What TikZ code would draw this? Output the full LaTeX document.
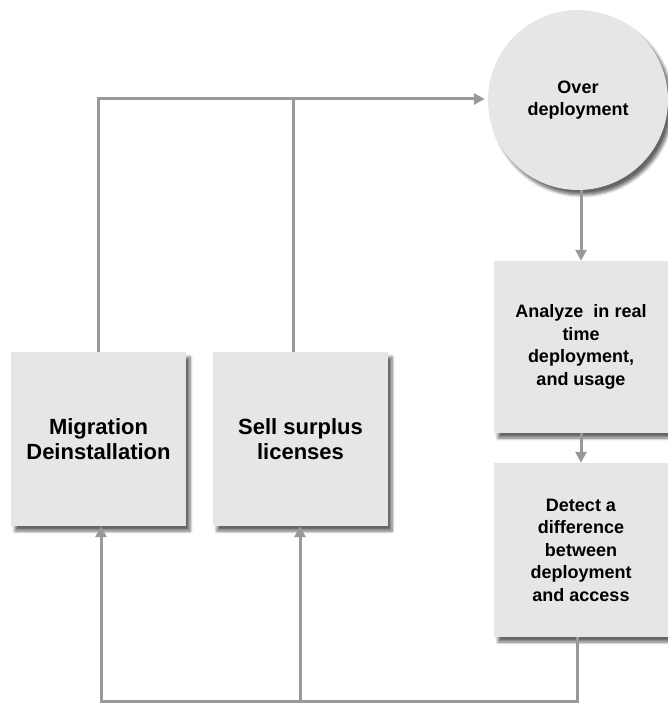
\documentclass[tikz,border=0pt]{standalone}
\usepackage{fontspec}
\setmainfont{Liberation Sans}
\usetikzlibrary{arrows.meta,shadows.blur}

\definecolor{boxfill}{HTML}{E6E6E6}
\definecolor{linegray}{HTML}{999999}

\begin{document}
\begin{tikzpicture}[x=1pt,y=-1pt,
  softshadow/.style={blur shadow={shadow xshift=4pt, shadow yshift=-5pt,
      shadow blur steps=6, shadow blur radius=3pt, shadow opacity=60}},
  card/.style={fill=boxfill, inner sep=0pt, align=center, softshadow},
  bigtext/.style={font=\fontsize{22}{24.5}\selectfont\bfseries},
  smalltext/.style={font=\fontsize{18}{22.5}\selectfont\bfseries},
  ln/.style={draw=linegray, line width=3pt},
  arr/.style={ln, -{Triangle[length=11pt,width=11pt]}}
]
\useasboundingbox (0,0) rectangle (668,706);

% process boxes
\node[card, bigtext, minimum width=175pt, minimum height=174pt] (mig)
  at (98.5,439) {Migration\\Deinstallation};
\node[card, bigtext, minimum width=175pt, minimum height=174pt] (sell)
  at (300.5,439) {Sell surplus\\licenses};
\node[card, smalltext, circle, minimum size=180pt] (over)
  at (578,100) {Over\\deployment};
\node[card, smalltext, minimum width=174pt, minimum height=172pt] (ana)
  at (581,347) {Analyze\ \ in real\\time\\deployment,\\and usage};
\node[card, smalltext, minimum width=174pt, minimum height=174pt] (det)
  at (581,550) {Detect a\\difference\\between\\deployment\\and access};

% feedback loop on top
\coordinate (top) at (0,99);
\draw[arr, shorten >=3pt] (mig.north) |- (over.west |- top);
\draw[ln] ([xshift=-7.5pt]sell.north) -- ([xshift=-7.5pt]sell.north |- top);

% main chain on the right
\draw[arr] (ana.north |- over.south) -- (ana.north);
\draw[arr] (ana.south) -- (det.north);

% return loop at the bottom
\coordinate (bot) at (0,701);
\draw[arr] ([xshift=-4pt]det.south) |- ([xshift=2.5pt]mig.south |- bot) -- ([xshift=2.5pt]mig.south);
\draw[arr] ([xshift=-0.5pt]sell.south |- bot) -- ([xshift=-0.5pt]sell.south);
\end{tikzpicture}
\end{document}
